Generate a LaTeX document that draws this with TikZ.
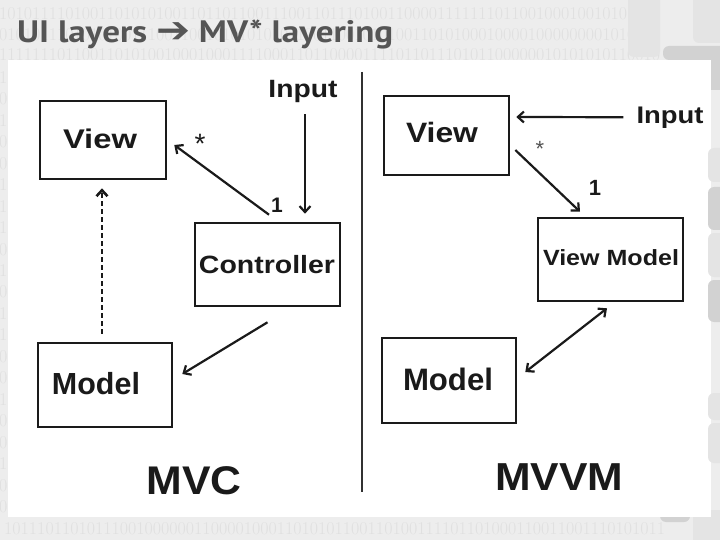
\documentclass[tikz,border=0pt]{standalone}
\usepackage{fontspec}
\usepackage{graphicx}
\newfontfamily\arial{Liberation Sans}
\newfontfamily\ptsans{PT Sans}
\newfontfamily\dejavu{DejaVu Sans}
\usetikzlibrary{arrows.meta,calc}
\definecolor{bgc}{HTML}{EDEDED}
\definecolor{digc}{HTML}{E0E0E0}
\definecolor{ttl}{HTML}{555555}
\definecolor{ink}{HTML}{1A1A1A}
\definecolor{tabA}{HTML}{E4E4E4}
\definecolor{tabB}{HTML}{D2D2D2}
\newcommand{\fw}[2]{\resizebox{#1}{\height}{#2}}
\newcommand{\fsz}[1]{\fontsize{#1}{#1}\selectfont}
\tikzset{
  box/.style={draw=ink, line width=2.6pt, inner sep=0pt},
  lbl/.style={inner sep=0pt, anchor=base, text=ink, font=\arial\bfseries},
  conn/.style={draw=ink, line width=2.2pt, -{Straight Barb[length=6pt,width=11pt]}},
  digits/.style={inner sep=0pt, anchor=base west, text=digc, font=\fsz{18}},
  tab/.style={rounded corners=6pt}
}
\begin{document}
\begin{tikzpicture}[x=1pt,y=-1pt]
\useasboundingbox (0,0) rectangle (720,540);
\clip (0,0) rectangle (720,540);
\fill[bgc] (0,0) rectangle (720,540);
% binary background rows (only the visible parts)
\node[digits] (d0) at (-1,20) {10101111010011010101001101101100111001101110100110000111111101100100010010101011};
\node[digits] (d1) at (-1,40.5) {01010111010101001110011001010101010110011001010100110101000100001000000001010100};
\node[digits] (d2) at (-1,61) {11111110110011010100100010001111000110110000111101101110101100000010101010110010};
\foreach \i/\c in {3/1,4/0,5/1,6/0,7/0,8/1,9/1,10/1,11/0,12/1,13/0,14/1,15/1,16/0,17/0,18/1,19/0,20/0,21/1,22/0,23/0}{
  \node[digits] (d\i) at (-1,19+21.46*\i) {\c};
}
\node[digits] (d24) at (4,534) {10111011010111001000000110000100011010101100110100111101101000110011001110101011};
% decorative tabs
\fill[tabA,tab] (628,-10) rectangle (660,57);
\fill[tabA,tab] (693,-10) rectangle (740,43);
\fill[tabB,tab] (663,46) rectangle (740,60);
\fill[tabB,tab] (693,50) rectangle (740,90);
\fill[tabB,tab] (660,505) rectangle (690,522);
\fill[tabA,tab] (693,510) rectangle (740,560);
% white panel
\fill[white] (8,60) rectangle (711,517);
\fill[tabA,tab] (708,148) rectangle (740,182);
\fill[tabB,tab] (708,187) rectangle (740,230);
\fill[tabA,tab] (708,233) rectangle (740,277);
\fill[tabB,tab] (708,280) rectangle (740,322);
\fill[tabA,tab] (708,393) rectangle (740,420);
\fill[tabA,tab] (708,423) rectangle (740,463);
% title
\node[anchor=base west, inner sep=0pt, text=ttl, font=\ptsans\bfseries\fsz{31}] (title) at (17,43) {\fw{376pt}{UI layers {\dejavu\bfseries\fsz{36}➔} MV* layering}};
% divider
\draw[draw=ink!90, line width=2pt] (362,72) coordinate (divtop) -- (362,492) coordinate (divbot);
% ---------- MVC ----------
\node[box, minimum width=126pt, minimum height=78pt] (view1) at (103,140) {};
\node[box, minimum width=145pt, minimum height=83pt] (ctrl) at (267.5,264.5) {};
\node[box, minimum width=134pt, minimum height=84pt] (model1) at (105,385) {};
\node[lbl, font=\arial\bfseries\fsz{27}] (tview1) at (100,149) {\fw{74pt}{View}};
\node[lbl, font=\arial\bfseries\fsz{25}] (tctrl) at (267,273) {\fw{136pt}{Controller}};
\node[lbl, font=\arial\bfseries\fsz{30.5}] (tmodel1) at (96,394) {\fw{88pt}{Model}};
\node[lbl, font=\arial\bfseries\fsz{25}] (inp1) at (303,98) {\fw{69pt}{Input}};
\node[lbl, font=\arial\fsz{28}] (star1) at (200,154) {*};
\node[lbl, font=\arial\bfseries\fsz{21}] (one1) at (277,213) {1};
\node[lbl, font=\arial\bfseries\fsz{40}] (mvc) at (194,494) {\fw{95pt}{MVC}};
\draw[conn] ($(inp1.south)+(2,11)$) -- ($(ctrl.north)+(37.5,-8)$);
\draw[conn] ($(ctrl.north)+(1.5,-7)$) -- ($(view1.east)+(7,5)$);
\draw[conn] ($(ctrl.south)+(0,15)$) -- ($(model1.east)+(9,-11)$);
\draw[conn, line width=2.6pt, dash pattern=on 5pt off 3pt] ($(model1.north)+(-3,-8)$) -- ($(view1.south)+(-1,8)$);
% ---------- MVVM ----------
\node[box, minimum width=125pt, minimum height=79pt] (view2) at (446.5,135.5) {};
\node[box, minimum width=145pt, minimum height=83pt] (vm) at (610.5,259.5) {};
\node[box, minimum width=134pt, minimum height=85pt] (model2) at (449,380.5) {};
\node[lbl, font=\arial\bfseries\fsz{28}] (tview2) at (442,143) {\fw{72pt}{View}};
\node[lbl, font=\arial\bfseries\fsz{22}] (tvm) at (611,265.5) {\fw{136pt}{View Model}};
\node[lbl, font=\arial\bfseries\fsz{31}] (tmodel2) at (448,390) {\fw{90pt}{Model}};
\node[lbl, font=\arial\bfseries\fsz{24}] (inp2) at (670,124) {\fw{67pt}{Input}};
\node[lbl, font=\arial\fsz{22}, text=ink!75] (star2) at (540,157) {*};
\node[lbl, font=\arial\bfseries\fsz{22}] (one2) at (595,196) {1};
\node[lbl, font=\arial\bfseries\fsz{39}] (mvvm) at (559,490) {\fw{128pt}{MVVM}};
\draw[conn] ($(inp2.west)+(-13,-1)$) -- ($(view2.east)+(6,-18.5)$);
\draw[conn] ($(view2.east)+(5,14.5)$) -- ($(vm.north)+(-30.5,-5)$);
\draw[conn, {Straight Barb[length=6pt,width=11pt]}-{Straight Barb[length=6pt,width=11pt]}] ($(vm.south)+(-3.5,6)$) -- ($(model2.east)+(8,-8.5)$);
\end{tikzpicture}
\end{document}
